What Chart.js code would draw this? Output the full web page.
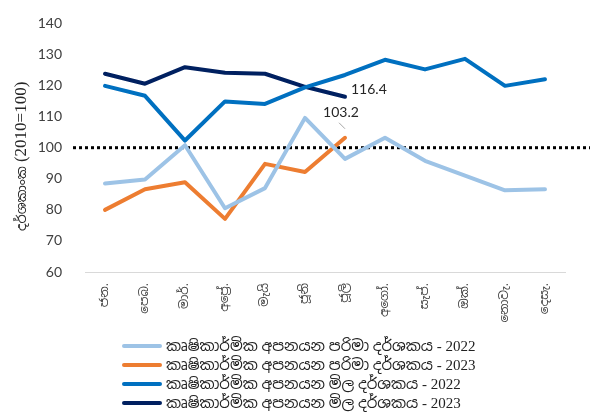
<!DOCTYPE html>
<html>
<head>
<meta charset="utf-8">
<script src="https://cdn.jsdelivr.net/npm/chart.js@4"></script>
<style>
  html,body{margin:0;padding:0;background:#fff;}
  #wrap{position:relative;width:590px;height:413px;}
  #legend{position:absolute;left:122px;top:336px;font-family:"Liberation Serif","Noto Sans Sinhala",serif;font-size:15px;color:#222;}
  #legend .row{display:flex;align-items:center;height:19px;}
  #legend .sw{width:40px;height:4px;border-radius:2px;margin-right:4px;}
</style>
</head>
<body>
<div id="wrap">
  <canvas id="c" width="590" height="413"></canvas>
  <div id="legend"></div>
</div>
<script>
const months = ['ජන.','පෙබ.','මාර්.','අප්‍රේ.','මැයි','ජූනි','ජූලි','අගෝ.','සැප්.','ඔක්.','නොවැ.','දෙසැ.'];
const volume2022 = [88.5, 89.8, 100.8, 80.5, 87.0, 109.6, 96.4, 103.2, 95.8, 91.0, 86.3, 86.6];
const volume2023 = [80.0, 86.6, 88.9, 77.1, 94.8, 92.2, 103.2];
const price2022  = [119.9, 116.7, 102.3, 114.9, 114.1, 119.4, 123.4, 128.3, 125.2, 128.6, 119.9, 122.0];
const price2023  = [123.8, 120.6, 125.9, 124.1, 123.8, 119.6, 116.4];
const yTicks = [60, 70, 80, 90, 100, 110, 120, 130, 140];
const baseLevel = 100;
const yTitleMain = 'දර්ශකාංක';
const yTitleBase = '(2010=100)';

const seriesNames = [
  'කෘෂිකාර්මික අපනයන පරිමා දර්ශකය - 2022',
  'කෘෂිකාර්මික අපනයන පරිමා දර්ශකය - 2023',
  'කෘෂිකාර්මික අපනයන මිල දර්ශකය - 2022',
  'කෘෂිකාර්මික අපනයන මිල දර්ශකය - 2023'
];
const seriesColors = ['#9dc3e6', '#ed7d31', '#0070c0', '#002060'];
const seriesData = [volume2022, volume2023, price2022, price2023];

// dotted base line at 100, runs past the plot area
const baseLinePlugin = {
  id: 'baseLine',
  beforeDatasetsDraw(chart) {
    const ctx = chart.ctx, y = chart.scales.y.getPixelForValue(baseLevel);
    ctx.save();
    ctx.strokeStyle = '#000';
    ctx.lineWidth = 3;
    ctx.setLineDash([3, 3]);
    ctx.beginPath();
    ctx.moveTo(73, y); ctx.lineTo(590, y);
    ctx.stroke();
    ctx.restore();
  }
};

// y title with two fonts (sinhala + serif numbers)
const yTitlePlugin = {
  id: 'yTitle',
  afterDraw(chart) {
    const ctx = chart.ctx;
    ctx.save();
    ctx.translate(22, 231);
    ctx.rotate(-Math.PI / 2);
    ctx.fillStyle = '#262626';
    ctx.textBaseline = 'middle';
    ctx.textAlign = 'left';
    ctx.font = '13px "Noto Sans Sinhala", sans-serif';
    ctx.fillText(yTitleMain, 0, 0);
    const w = ctx.measureText(yTitleMain).width;
    ctx.font = '17px "Liberation Serif", serif';
    ctx.fillText(yTitleBase, w + 4, 0);
    ctx.restore();
  }
};

// end-point value labels
const endLabels = {
  id: 'endLabels',
  afterDatasetsDraw(chart) {
    const ctx = chart.ctx;
    ctx.save();
    ctx.font = '14px Lato, sans-serif';
    ctx.fillStyle = '#262626';
    ctx.textBaseline = 'middle';
    const pNavy = chart.getDatasetMeta(3).data[6];
    ctx.textAlign = 'left';
    ctx.fillText(price2023[6].toFixed(1), pNavy.x + 6, pNavy.y - 7);
    const pOr = chart.getDatasetMeta(1).data[6];
    ctx.textAlign = 'center';
    ctx.fillText(volume2023[6].toFixed(1), pOr.x - 4, pOr.y - 25);
    ctx.strokeStyle = '#a6a6a6';
    ctx.lineWidth = 1;
    ctx.beginPath();
    ctx.moveTo(pOr.x - 6, pOr.y - 15); ctx.lineTo(pOr.x, pOr.y - 9);
    ctx.stroke();
    ctx.restore();
  }
};

const chart = new Chart(document.getElementById('c'), {
  type: 'line',
  data: {
    labels: months,
    datasets: seriesData.map((d, i) => ({
      label: seriesNames[i], data: d,
      borderColor: seriesColors[i], backgroundColor: seriesColors[i],
      borderWidth: 4, pointRadius: 0, tension: 0,
      borderCapStyle: 'round', borderJoinStyle: 'round'
    }))
  },
  options: {
    responsive: false, animation: false,
    layout: { padding: { top: 22, left: 0, right: 25, bottom: 0 } },
    plugins: { legend: { display: false }, tooltip: { enabled: false } },
    scales: {
      x: {
        offset: true,
        grid: { display: false, offset: true },
        border: { color: '#d9d9d9', width: 1 },
        ticks: { minRotation: 90, maxRotation: 90, color: '#404040', font: { size: 12, family: 'Noto Sans Sinhala, sans-serif' } },
        afterFit(s) { s.height = 141; }
      },
      y: {
        min: 60, max: 140,
        afterBuildTicks(s) { s.ticks = yTicks.map(v => ({ value: v })); },
        grid: { display: false },
        border: { display: false },
        ticks: { color: '#404040', padding: 15, font: { size: 14, family: 'Lato, sans-serif' } },
        afterFit(s) { s.width = 85; }
      }
    }
  },
  plugins: [baseLinePlugin, endLabels, yTitlePlugin]
});

document.getElementById('legend').innerHTML = seriesNames.map((n, i) =>
  `<div class="row"><div class="sw" style="background:${seriesColors[i]}"></div><span>${n}</span></div>`).join('');
</script>
</body>
</html>
